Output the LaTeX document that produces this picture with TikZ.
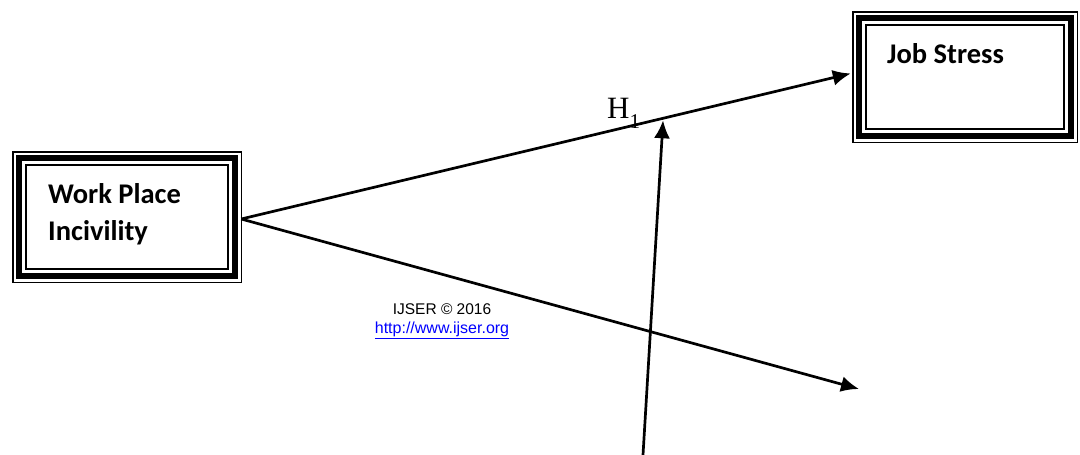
\documentclass[tikz,border=0pt]{standalone}
\usepackage{fontspec}
\usepackage{xcolor}
\usepackage{tikz}
\usetikzlibrary{arrows.meta,positioning}
\newfontfamily\boxfont{Carlito}
\newfontfamily\hypfont{Liberation Serif}
\newfontfamily\notefont{Liberation Sans}
\definecolor{linkblue}{RGB}{0,0,255}

\begin{document}
\begin{tikzpicture}[x=1pt, y=-1pt,
    framebox/.style={rectangle, draw, line width=1.5pt, outer sep=0pt, minimum height=130.5pt},
    boxtext/.style={font=\boxfont\bfseries\fontsize{28.5}{37}\selectfont, align=left, inner sep=0pt, anchor=base west},
    arrow/.style={-{Latex[length=18pt, width=16pt]}, line width=2.7pt}]
\useasboundingbox (0,0) rectangle (1080,455);

\node[framebox, minimum width=228.5pt] (wpi) at (127,217) {};
\node[framebox, minimum width=224.5pt] (js) at (965,77) {};
\foreach \b in {wpi,js} {
  \draw[line width=5.5pt] ([shift={(6.25,6.25)}]\b.north west) rectangle ([shift={(-6.25,-6.25)}]\b.south east);
  \draw[line width=2pt] ([shift={(13.25,13.25)}]\b.north west) rectangle ([shift={(-13.25,-13.25)}]\b.south east);
}

\node[boxtext] (wpitext) at (48,240) {Work Place\\Incivility};
\node[boxtext] (jstext) at (887,63) {Job Stress};

\coordinate (med) at (859,389);
\coordinate (mod) at (643,455);

\draw[arrow, shorten >=2pt] ([yshift=-2pt]wpi.east) -- coordinate[pos=0.69] (h1tip) ([yshift=4pt]js.west);
\draw[arrow] ([yshift=-2pt]wpi.east) -- (med);
\draw[arrow, shorten >=2pt] (mod) -- (h1tip);

\node[font=\hypfont\fontsize{31}{31}\selectfont, inner sep=0pt, anchor=base west] (h1) at (607,118) {H\raisebox{-10pt}{\fontsize{21}{21}\selectfont 1}};

\node[font=\notefont\fontsize{15.5}{19}\selectfont, align=center, inner sep=0pt, anchor=base] (ijser) at (442,333) {IJSER © 2016\\{\fontsize{16}{19}\selectfont\color{linkblue}\underline{http://www.ijser.org}}};
\end{tikzpicture}
\end{document}
